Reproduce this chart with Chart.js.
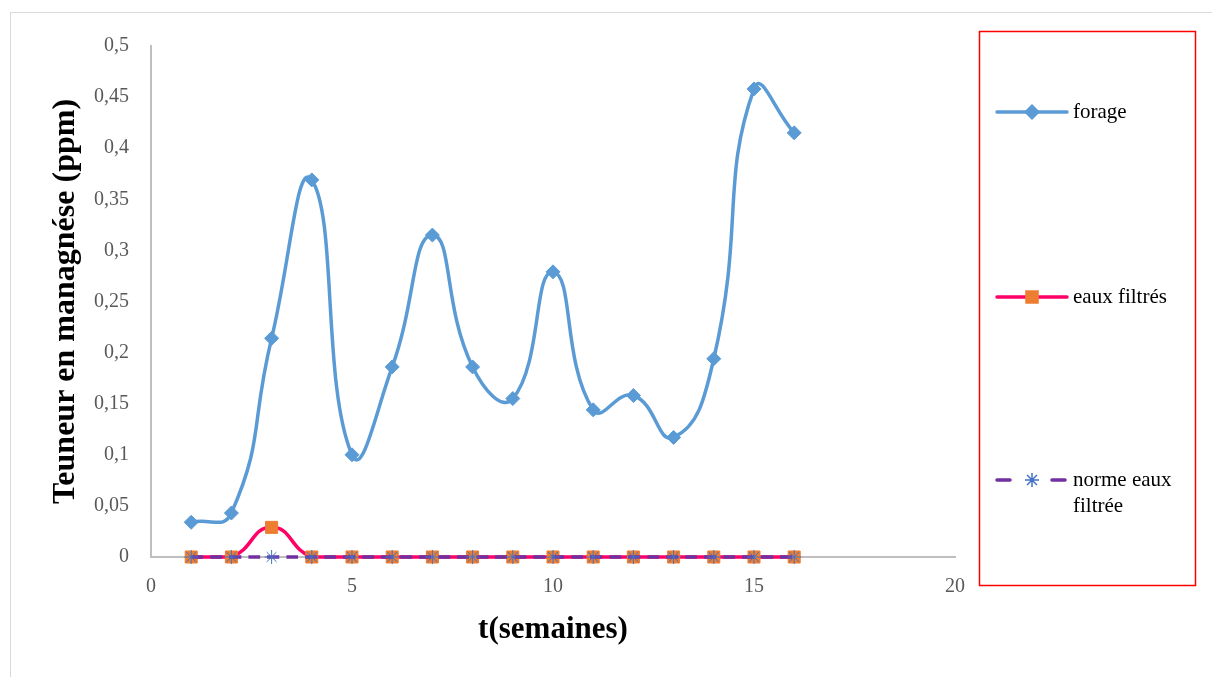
<!DOCTYPE html>
<html>
<head>
<meta charset="utf-8">
<script src="https://cdn.jsdelivr.net/npm/chart.js@4/dist/chart.umd.min.js"></script>
<style>
  html, body { margin: 0; padding: 0; background: #ffffff; }
  #wrap { position: relative; width: 1212px; height: 677px; overflow: hidden; }
  #frame { position: absolute; left: 10px; top: 12px; width: 1220px; height: 700px; border: 1px solid #d9d9d9; box-sizing: border-box; }
  canvas { position: absolute; left: 0; top: 0; }
</style>
</head>
<body>
<div id="wrap">
  <div id="frame"></div>
  <canvas id="c" width="1212" height="677"></canvas>
</div>
<script>
// ---- data ----
const weeks = [1, 2, 3, 4, 5, 6, 7, 8, 9, 10, 11, 12, 13, 14, 15, 16];
const forage = [0.034, 0.043, 0.214, 0.369, 0.100, 0.186, 0.315, 0.186, 0.155, 0.279, 0.144, 0.158, 0.117, 0.194, 0.458, 0.415];
const eauxFiltres = [0, 0, 0.029, 0, 0, 0, 0, 0, 0, 0, 0, 0, 0, 0, 0, 0];
const normeEauxFiltree = [0, 0, 0, 0, 0, 0, 0, 0, 0, 0, 0, 0, 0, 0, 0, 0];
const seriesNames = ['forage', 'eaux filtrés', 'norme eaux filtrée'];
const legendLines = [['forage'], ['eaux filtrés'], ['norme eaux', 'filtrée']];
const xTitle = 't(semaines)';
const yTitle = 'Teuneur en managnése (ppm)';

const toPoints = (ys) => weeks.map((x, i) => ({ x: x, y: ys[i] }));

const SERIF = "'Liberation Serif', 'Times New Roman', serif";

const datasets = [
  {
    label: seriesNames[0],
    data: toPoints(forage),
    borderColor: '#5b9bd5',
    backgroundColor: '#5b9bd5',
    borderWidth: 3.5,
    pointStyle: 'rectRot',
    pointRadius: 7,
    pointBorderWidth: 1,
    pointBorderColor: '#5b9bd5',
    pointBackgroundColor: '#5b9bd5',
    tension: 0.5,
    clip: false,
    order: 2
  },
  {
    label: seriesNames[1],
    data: toPoints(eauxFiltres),
    borderColor: '#ff0066',
    backgroundColor: '#ed7d31',
    borderWidth: 3.5,
    pointStyle: 'rect',
    pointRadius: 8.5,
    pointBorderWidth: 1,
    pointBorderColor: '#ed7d31',
    pointBackgroundColor: '#ed7d31',
    tension: 0.5,
    clip: false,
    order: 1
  },
  {
    label: seriesNames[2],
    data: toPoints(normeEauxFiltree),
    borderColor: '#7030a0',
    backgroundColor: '#4472c4',
    borderWidth: 3.5,
    borderDash: [12, 7],
    pointStyle: 'star',
    pointRadius: 7,
    pointBorderWidth: 1,
    pointBorderColor: '#4472c4',
    pointBackgroundColor: '#4472c4',
    tension: 0.5,
    clip: false,
    order: 0
  }
];

const legendPlugin = {
  id: 'boxLegend',
  afterDraw(chart) {
    const ctx = chart.ctx;
    ctx.save();
    ctx.strokeStyle = '#ff0000';
    ctx.lineWidth = 1.5;
    ctx.strokeRect(979.5, 31.5, 216, 554);
    const ys = [112, 297, 480];
    const x0 = 997, x1 = 1067, xm = 1032;
    chart.data.datasets.forEach((ds, i) => {
      const y = ys[i];
      ctx.save();
      ctx.strokeStyle = ds.borderColor;
      ctx.lineWidth = ds.borderWidth;
      ctx.lineCap = 'round';
      if (ds.borderDash) {
        ctx.setLineDash([13, 42]);
      }
      ctx.beginPath();
      ctx.moveTo(x0, y);
      ctx.lineTo(x1, y);
      ctx.stroke();
      ctx.setLineDash([]);
      ctx.restore();
      ctx.save();
      ctx.fillStyle = ds.pointBackgroundColor;
      ctx.strokeStyle = ds.pointBorderColor;
      Chart.helpers.drawPoint(ctx, {
        pointStyle: ds.pointStyle,
        radius: ds.pointRadius,
        rotation: 0,
        borderWidth: ds.pointBorderWidth
      }, xm, y);
      ctx.restore();
      ctx.fillStyle = '#000000';
      ctx.font = '21px ' + SERIF;
      ctx.textBaseline = 'middle';
      ctx.textAlign = 'left';
      legendLines[i].forEach((t, k) => {
        ctx.fillText(t, 1073, y + k * 26);
      });
    });
    ctx.restore();
  }
};

const fmt = (v) => {
  let s = (Math.round(v * 100) / 100).toString();
  return s.replace('.', ',');
};

new Chart(document.getElementById('c'), {
  type: 'line',
  data: { datasets: datasets },
  options: {
    responsive: false,
    animation: false,
    devicePixelRatio: 1,
    layout: { padding: { left: 0, top: 46, right: 257, bottom: 0 } },
    plugins: {
      legend: { display: false },
      tooltip: { enabled: false }
    },
    scales: {
      x: {
        type: 'linear',
        min: 0,
        max: 20,
        afterFit: (s) => { s.height = 120; },
        grid: { display: false },
        border: { display: true, color: '#bfbfbf', width: 2 },
        ticks: {
          stepSize: 5,
          padding: 10,
          color: '#595959',
          font: { family: SERIF, size: 20 },
          callback: (v) => fmt(v)
        },
        title: {
          display: true,
          text: xTitle,
          color: '#000000',
          font: { family: SERIF, size: 31, weight: 'bold' },
          padding: { top: 0, bottom: 28 }
        }
      },
      y: {
        type: 'linear',
        min: 0,
        max: 0.5,
        afterFit: (s) => { s.width = 151; },
        grid: { display: false },
        border: { display: true, color: '#bfbfbf', width: 2 },
        ticks: {
          stepSize: 0.05,
          padding: 14,
          color: '#595959',
          font: { family: SERIF, size: 20 },
          callback: (v) => fmt(v)
        },
        title: {
          display: true,
          text: yTitle,
          color: '#000000',
          font: { family: SERIF, size: 32, weight: 'bold' },
          padding: { top: 47, bottom: 0 }
        }
      }
    }
  },
  plugins: [legendPlugin]
});
</script>
</body>
</html>
